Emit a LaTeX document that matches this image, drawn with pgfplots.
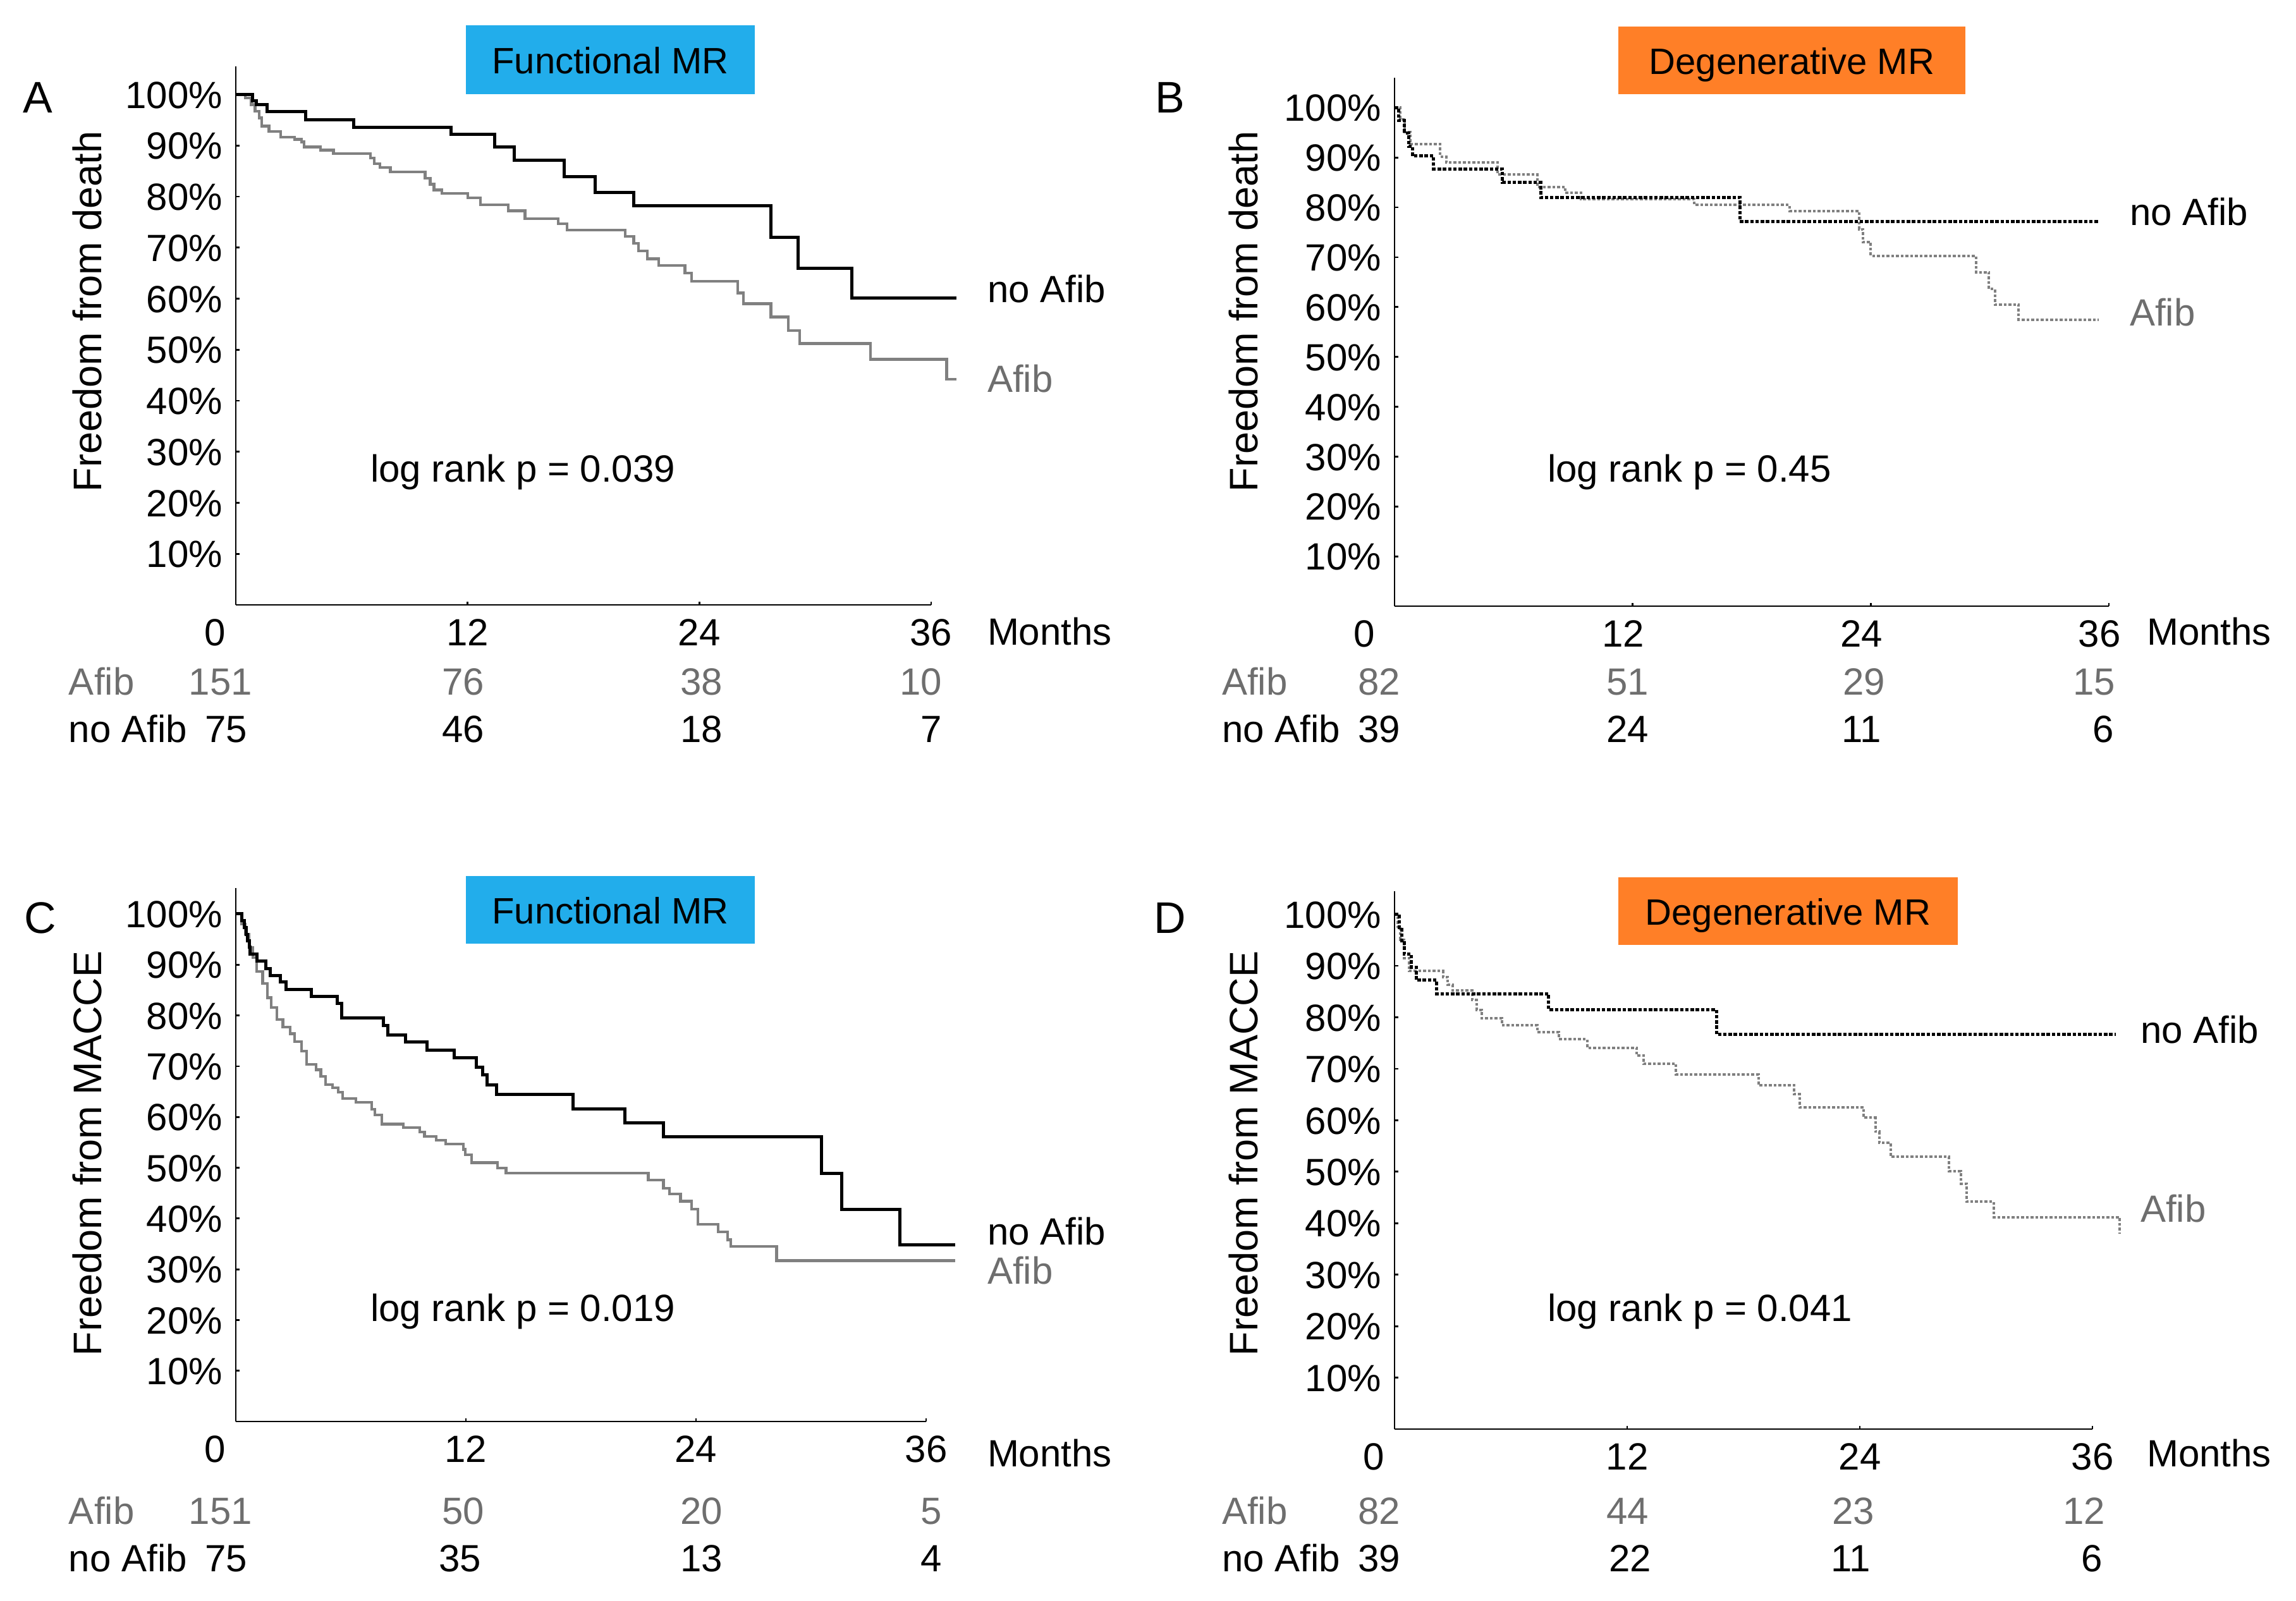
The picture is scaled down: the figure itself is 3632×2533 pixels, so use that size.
\documentclass[border=0pt]{standalone}
\usepackage{fontspec}
\setmainfont{Liberation Sans}
\usepackage{pgfplots}
\pgfplotsset{compat=1.18}
\definecolor{fmr}{HTML}{22ADEB}
\definecolor{dmr}{HTML}{FF7F27}
\definecolor{afibline}{HTML}{808080}
\definecolor{afibtext}{HTML}{6E6E6E}

\pgfplotsset{km/.style={
  scale only axis, anchor=south west, clip=false,
  xmin=0, xmax=36, ymin=0,
  axis x line*=bottom, axis y line*=left,
  axis line style={line width=0.55pt, black},
  tick align=inside, major tick length=1.1pt,
  every tick/.style={black, line width=0.55pt},
  xtick={12,24,36}, xticklabels={12,24,36},
  extra x ticks={0}, extra x tick labels={0},
  extra x tick style={major tick length=0pt, tick label style={xshift=-6.5pt}},
  ytick={10,20,30,40,50,60,70,80,90,100},
  yticklabels={10\%,20\%,30\%,40\%,50\%,60\%,70\%,80\%,90\%,100\%},
  tick label style={text height=0.72em, text depth=0pt},
},
solidno/.style={const plot, black, line width=1.0pt},
solidaf/.style={const plot, afibline, line width=0.85pt},
dotno/.style={const plot, black, line width=1.0pt, dash pattern=on 1.1pt off 0.55pt},
dotaf/.style={const plot, afibline, line width=0.8pt, dash pattern=on 0.9pt off 0.6pt},
}

\begin{document}
\fontsize{12}{14}\selectfont
\begin{tikzpicture}

% ---------- A: functional MR, death ----------
\begin{axis}[km, at={(74.6pt,-191.4pt)}, width=220pt, height=170.4pt, ymax=105.5]
\addplot[solidaf] coordinates {(0,100) (0.5,99.3) (0.8,98.0) (1.0,96.7) (1.2,95.4) (1.34,93.8) (1.72,92.7) (2.32,91.6) (3.04,91.2) (3.4,90.7) (3.53,89.7) (4.38,89.1) (5.06,88.4) (6.97,87.5) (7.16,86.4) (7.45,85.7) (8.0,84.8) (9.8,83.6) (10.06,82.4) (10.26,81.3) (10.67,80.6) (12.0,79.7) (12.67,78.4) (14.1,77.2) (14.97,75.7) (16.7,74.7) (17.15,73.4) (20.17,72.2) (20.6,70.8) (20.85,69.3) (21.3,67.8) (21.9,66.5) (23.25,65.0) (23.6,63.4) (25.98,61.1) (26.27,59.0) (27.7,56.4) (28.6,53.7) (29.2,51.2) (32.85,48.1) (36.8,44.2) (37.3,44.2)};
\addplot[solidno] coordinates {(0,100) (0.87,98.7) (1.06,98.0) (1.63,96.7) (3.6,95.0) (6.1,93.6) (11.15,92.2) (13.4,89.7) (14.4,87.1) (17.0,83.9) (18.6,80.8) (20.6,78.2) (27.7,72.0) (29.1,65.9) (31.9,60.1) (37.3,60.1)};
\end{axis}

% ---------- B: degenerative MR, death ----------
\begin{axis}[km, at={(441.2pt,-191.8pt)}, width=226pt, height=167.2pt, ymax=106,
  xticklabel style={xshift=-3pt}]
\addplot[dotaf] coordinates {(0,100) (0.3,97.6) (0.5,95.1) (0.8,92.7) (2.3,90.2) (2.6,89.0) (5.2,86.6) (7.2,84.1) (8.6,82.9) (9.4,81.7) (15.1,80.5) (19.9,79.3) (23.4,75.6) (23.6,73.0) (24.0,70.3) (29.3,67.0) (29.96,63.6) (30.25,60.5) (31.45,57.5) (35.5,57.5)};
\addplot[dotno] coordinates {(0,100) (0.2,97.4) (0.5,94.9) (0.7,92.3) (0.9,90.3) (1.97,87.7) (5.44,85.0) (7.36,82.0) (17.4,77.2) (35.5,77.2)};
\end{axis}

% ---------- C: functional MR, MACCE ----------
\begin{axis}[km, at={(74.6pt,-449.8pt)}, width=218.4pt, height=168.8pt, ymax=105.1]
\addplot[solidaf] coordinates {(0,100) (0.3,98.0) (0.5,96.0) (0.7,93.4) (0.9,91.4) (1.1,88.7) (1.4,86.3) (1.65,83.5) (1.84,81.6) (2.14,79.2) (2.46,77.7) (2.83,76.4) (3.07,74.8) (3.44,73.0) (3.69,70.4) (4.18,69.3) (4.43,68.0) (4.67,66.4) (5.04,65.8) (5.34,64.9) (5.58,63.6) (6.27,62.9) (7.08,61.5) (7.25,60.4) (7.62,58.6) (8.73,57.9) (9.59,57.0) (9.84,56.2) (10.45,55.4) (10.94,54.7) (11.88,53.6) (11.97,52.6) (12.29,51.0) (13.65,49.9) (14.09,48.9) (21.51,47.6) (22.3,46.0) (22.62,44.8) (23.19,43.4) (23.78,41.8) (24.1,38.9) (25.15,37.4) (25.65,35.8) (25.82,34.5) (28.2,31.7) (37.5,31.7)};
\addplot[solidno] coordinates {(0,100) (0.3,98.7) (0.45,97.3) (0.55,96.0) (0.61,94.7) (0.7,93.4) (0.74,92.1) (1.1,90.7) (1.55,89.2) (1.8,87.9) (2.34,86.6) (2.63,85.1) (3.93,83.7) (5.29,82.4) (5.53,79.5) (7.7,78.0) (7.94,76.2) (8.85,74.8) (9.96,73.2) (11.38,71.7) (12.54,69.8) (12.86,68.3) (13.1,66.3) (13.6,64.5) (17.58,61.6) (20.29,58.8) (22.3,56.1) (30.56,48.9) (31.6,41.8) (34.62,34.8) (37.5,34.8)};
\end{axis}

% ---------- D: degenerative MR, MACCE ----------
\begin{axis}[km, at={(441.2pt,-452.2pt)}, width=220.8pt, height=170.2pt, ymax=104.5]
\addplot[dotaf] coordinates {(0,100) (0.15,97.6) (0.3,95.1) (0.5,91.5) (0.75,89.0) (2.5,87.8) (2.75,86.3) (3.0,85.2) (4.0,83.4) (4.24,81.4) (4.5,79.8) (5.54,78.5) (7.36,77.1) (8.49,75.8) (9.93,74.1) (12.48,72.6) (12.85,71.0) (14.52,68.9) (18.77,66.8) (20.6,65.1) (20.9,62.5) (24.2,60.5) (24.8,57.8) (25.0,55.6) (25.6,52.9) (28.6,50.1) (29.2,47.7) (29.5,44.2) (30.9,41.2) (37.4,41.2) (37.4,38.0)};
\addplot[dotno] coordinates {(0,100) (0.25,97.4) (0.37,94.9) (0.5,92.3) (0.87,89.7) (1.12,87.2) (2.17,84.6) (7.94,81.5) (16.6,76.7) (37.2,76.7)};
\end{axis}

\begin{scope}[x=0.2pt, y=-0.2pt,
  lab/.style={anchor=west, inner sep=0pt, text height=0.72em, text depth=0pt},
  num/.style={anchor=east, inner sep=0pt, text height=0.72em, text depth=0pt},
  ctr/.style={inner sep=0pt, text height=0.72em, text depth=0pt, font=\fontsize{12.6}{14}\selectfont},
  letter/.style={inner sep=0pt, text height=0.72em, text depth=0pt, font=\fontsize{14}{16}\selectfont},
  box/.style={inner sep=0pt, text height=0.72em, text depth=0pt, font=\fontsize{11.6}{13}\selectfont}]
\path (0,0) rectangle (3632,2533);

% title boxes
\fill[fmr] (737,40) rectangle (1194,149);
\node[box] at (965.5,94.5) {Functional MR};
\fill[dmr] (2560,42) rectangle (3109,149);
\node[box] at (2834.5,95.5) {Degenerative MR};
\fill[fmr] (737,1386) rectangle (1194,1493);
\node[box] at (965.5,1439.5) {Functional MR};
\fill[dmr] (2560,1388) rectangle (3097,1495);
\node[box] at (2828.5,1441.5) {Degenerative MR};

% panel letters
\node[letter] at (60,157) {A};
\node[letter] at (1851,157) {B};
\node[letter] at (64,1455) {C};
\node[letter] at (1851,1455) {D};

% y labels
\node[ctr, rotate=90] at (139,493) {Freedom from death};
\node[ctr, rotate=90] at (1968,493) {Freedom from death};
\node[ctr, rotate=90] at (139,1825) {Freedom from MACCE};
\node[ctr, rotate=90] at (1968,1825) {Freedom from MACCE};

% Months
\node[lab] at (1561,999) {Months};
\node[lab] at (3395,999) {Months};
\node[lab] at (1561,2299) {Months};
\node[lab] at (3395,2299) {Months};

% curve labels
\node[lab] at (1561,457) {no Afib};
\node[lab, afibtext] at (1561,599) {Afib};
\node[lab] at (3368,335) {no Afib};
\node[lab, afibtext] at (3368,494) {Afib};
\node[lab] at (1561,1948) {no Afib};
\node[lab, afibtext] at (1561,2010) {Afib};
\node[lab] at (3385,1629) {no Afib};
\node[lab, afibtext] at (3385,1912) {Afib};

% log rank
\node[lab] at (585,741) {log rank p = 0.039};
\node[lab] at (2447,741) {log rank p = 0.45};
\node[lab] at (585,2069) {log rank p = 0.019};
\node[lab] at (2447,2069) {log rank p = 0.041};

% numbers at risk A
\node[lab, afibtext] at (108,1078) {Afib};
\node[lab] at (108,1153) {no Afib};
\node[num, afibtext] at (400,1078) {151};
\node[num, afibtext] at (767,1078) {76};
\node[num, afibtext] at (1144,1078) {38};
\node[num, afibtext] at (1491,1078) {10};
\node[num] at (392,1153) {75};
\node[num] at (767,1153) {46};
\node[num] at (1144,1153) {18};
\node[num] at (1491,1153) {7};

% numbers at risk B
\node[lab, afibtext] at (1932,1078) {Afib};
\node[lab] at (1932,1153) {no Afib};
\node[num, afibtext] at (2216,1078) {82};
\node[num, afibtext] at (2609,1078) {51};
\node[num, afibtext] at (2983,1078) {29};
\node[num, afibtext] at (3347,1078) {15};
\node[num] at (2216,1153) {39};
\node[num] at (2609,1153) {24};
\node[num] at (2977,1153) {11};
\node[num] at (3345,1153) {6};

% numbers at risk C
\node[lab, afibtext] at (108,2390) {Afib};
\node[lab] at (108,2465) {no Afib};
\node[num, afibtext] at (400,2390) {151};
\node[num, afibtext] at (767,2390) {50};
\node[num, afibtext] at (1144,2390) {20};
\node[num, afibtext] at (1491,2390) {5};
\node[num] at (392,2465) {75};
\node[num] at (762,2465) {35};
\node[num] at (1144,2465) {13};
\node[num] at (1491,2465) {4};

% numbers at risk D
\node[lab, afibtext] at (1932,2390) {Afib};
\node[lab] at (1932,2465) {no Afib};
\node[num, afibtext] at (2216,2390) {82};
\node[num, afibtext] at (2609,2390) {44};
\node[num, afibtext] at (2966,2390) {23};
\node[num, afibtext] at (3331,2390) {12};
\node[num] at (2216,2465) {39};
\node[num] at (2613,2465) {22};
\node[num] at (2960,2465) {11};
\node[num] at (3327,2465) {6};
\end{scope}
\end{tikzpicture}
\end{document}
